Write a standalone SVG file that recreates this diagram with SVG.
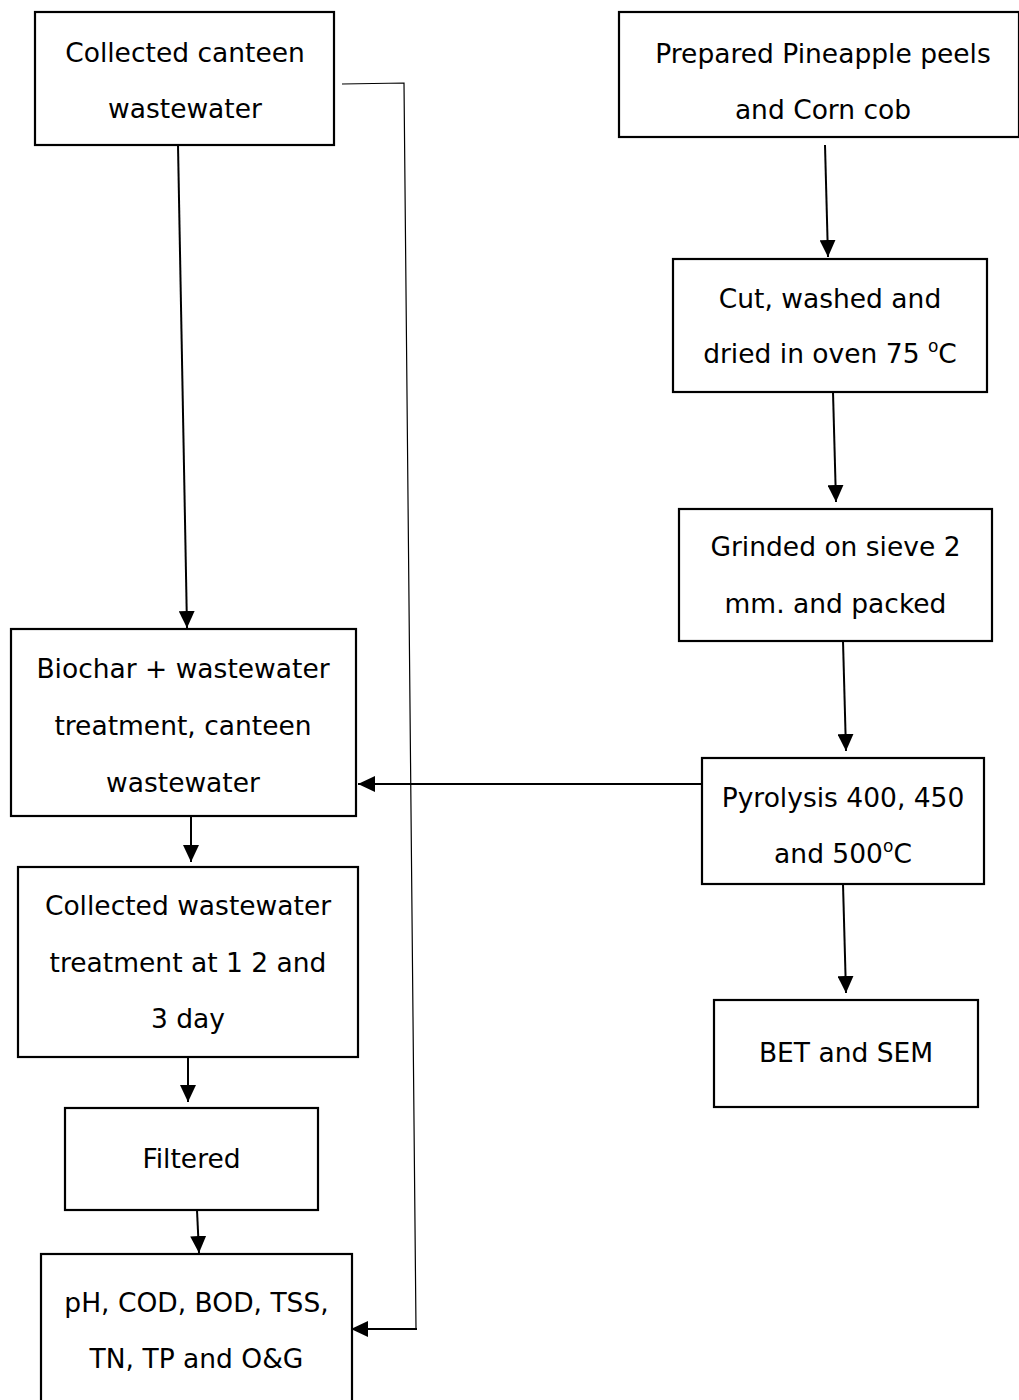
<svg xmlns="http://www.w3.org/2000/svg" width="1019" height="1400" viewBox="0 0 1019 1400">
<defs>
<style>
.box{fill:#fff;stroke:#000;stroke-width:2.2}
.t{font-family:"DejaVu Sans",sans-serif;font-size:26.5px;fill:#000;text-anchor:middle}
.c{fill:none;stroke:#000;stroke-width:2}
.thin{fill:none;stroke:#000;stroke-width:1.2}
.sup{font-size:17px}
</style>
<marker id="ah" markerUnits="userSpaceOnUse" markerWidth="17" markerHeight="16" viewBox="0 0 17 16" refX="17" refY="8" orient="auto">
<path d="M0,0 L17,8 L0,16 Z" fill="#000"/>
</marker>
</defs>
<rect width="1019" height="1400" fill="#fff"/>
<g id="connectors">
<path class="c" d="M178,145 L187,628" marker-end="url(#ah)"/>
<path class="c" d="M825,145 L828,257" marker-end="url(#ah)"/>
<path class="c" d="M833,392 L836,502" marker-end="url(#ah)"/>
<path class="c" d="M843,641 L846,751" marker-end="url(#ah)"/>
<path class="c" d="M702,784 L358,784" marker-end="url(#ah)"/>
<path class="c" d="M843,884 L846,993" marker-end="url(#ah)"/>
<path class="c" d="M191,816 L191,862" marker-end="url(#ah)"/>
<path class="c" d="M188,1057 L188,1102" marker-end="url(#ah)"/>
<path class="c" d="M197,1210 L199,1253" marker-end="url(#ah)"/>
<path class="thin" d="M342,84 L404,83 L416,1329"/>
<path class="c" d="M417,1329 L351,1329" marker-end="url(#ah)"/>
</g>
<g id="n1">
<rect class="box" x="35" y="12" width="299" height="133"/>
<text class="t" x="185" y="62">Collected canteen</text>
<text class="t" x="185" y="118">wastewater</text>
</g>
<g id="n2">
<rect class="box" x="619" y="12" width="400" height="125"/>
<text class="t" x="823" y="63">Prepared Pineapple peels</text>
<text class="t" x="823" y="119">and Corn cob</text>
</g>
<g id="n3">
<rect class="box" x="673" y="259" width="314" height="133"/>
<text class="t" x="830" y="308">Cut, washed and</text>
<text class="t" x="830" y="363">dried in oven 75 <tspan class="sup" dy="-11">o</tspan><tspan dy="11">C</tspan></text>
</g>
<g id="n4">
<rect class="box" x="679" y="509" width="313" height="132"/>
<text class="t" x="835.5" y="556">Grinded on sieve 2</text>
<text class="t" x="835.5" y="613">mm. and packed</text>
</g>
<g id="n5">
<rect class="box" x="702" y="758" width="282" height="126"/>
<text class="t" x="843" y="807">Pyrolysis 400, 450</text>
<text class="t" x="843" y="863">and 500<tspan class="sup" dy="-11">o</tspan><tspan dy="11">C</tspan></text>
</g>
<g id="n6">
<rect class="box" x="714" y="1000" width="264" height="107"/>
<text class="t" x="846" y="1062">BET and SEM</text>
</g>
<g id="n7">
<rect class="box" x="11" y="629" width="345" height="187"/>
<text class="t" x="183" y="678">Biochar + wastewater</text>
<text class="t" x="183" y="735">treatment, canteen</text>
<text class="t" x="183" y="792">wastewater</text>
</g>
<g id="n8">
<rect class="box" x="18" y="867" width="340" height="190"/>
<text class="t" x="188" y="915">Collected wastewater</text>
<text class="t" x="188" y="972">treatment at 1 2 and</text>
<text class="t" x="188" y="1028">3 day</text>
</g>
<g id="n9">
<rect class="box" x="65" y="1108" width="253" height="102"/>
<text class="t" x="191.5" y="1168">Filtered</text>
</g>
<g id="n10">
<rect class="box" x="41" y="1254" width="311" height="160"/>
<text class="t" x="196.5" y="1312">pH, COD, BOD, TSS,</text>
<text class="t" x="196.5" y="1368">TN, TP and O&amp;G</text>
</g>
</svg>
